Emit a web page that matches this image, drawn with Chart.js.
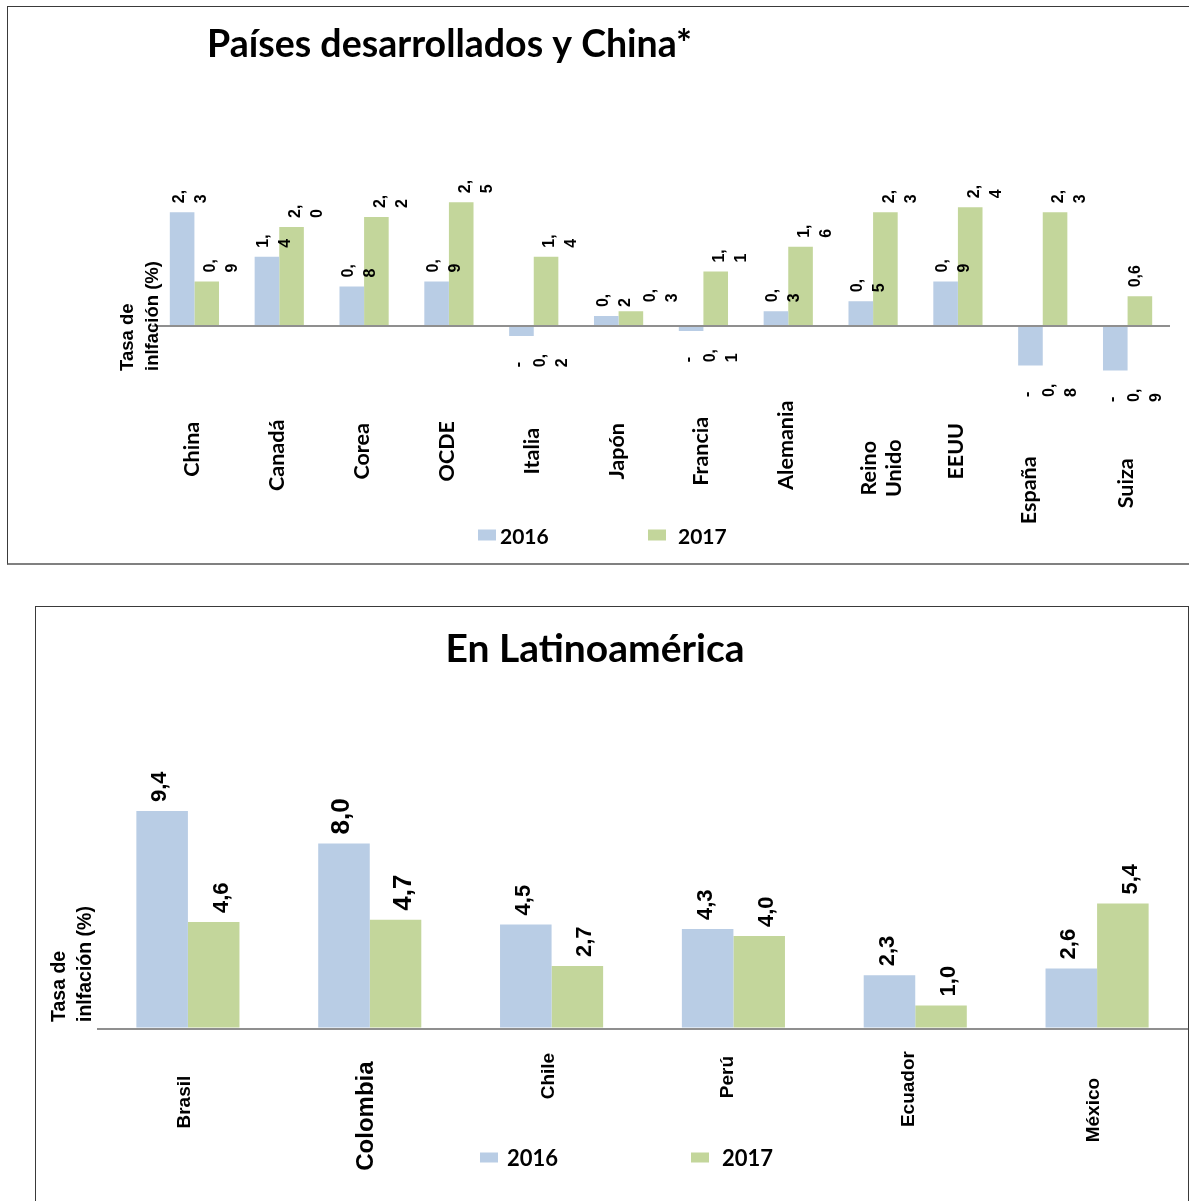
<!DOCTYPE html>
<html lang="es">
<head>
<meta charset="utf-8">
<title>Tasa de inflación 2016-2017</title>
<script src="https://cdn.jsdelivr.net/npm/chart.js@4.4.1/dist/chart.umd.min.js"></script>
<style>
  html, body { margin: 0; padding: 0; background: #fff; }
  body { width: 1189px; height: 1201px; position: relative; overflow: hidden; }
  .marco { position: absolute; box-sizing: border-box; }
  #marco1 { left: 7px; top: 6px; width: 1200px; height: 559px;
            border-left: 1.5px solid #3a3a3a; border-top: 1.5px solid #3a3a3a; border-bottom: 2px solid #808080; }
  #marco2 { left: 35px; top: 606px; width: 1154px; height: 700px; border: 1.5px solid #3a3a3a; }
  .lienzo { position: absolute; left: 0; }
  #lienzo1 { top: 0; }
  #lienzo2 { top: 600px; }
</style>
</head>
<body>
<div class="marco" id="marco1"></div>
<div class="marco" id="marco2"></div>
<canvas class="lienzo" id="lienzo1" width="1189" height="566"></canvas>
<canvas class="lienzo" id="lienzo2" width="1189" height="601"></canvas>
<script>
// ---- Datos: tasa de inflación (%) ----
const paisesDesarrollados = ['China', 'Canadá', 'Corea', 'OCDE', 'Italia', 'Japón', 'Francia',
                             'Alemania', ['Reino', 'Unido'], 'EEUU', 'España', 'Suiza'];
const desarrollados2016 = [2.3, 1.4, 0.8, 0.9, -0.2, 0.2, -0.1, 0.3, 0.5, 0.9, -0.8, -0.9];
const desarrollados2017 = [0.9, 2.0, 2.2, 2.5, 1.4, 0.3, 1.1, 1.6, 2.3, 2.4, 2.3, 0.6];

const paisesLatam = ['Brasil', 'Colombia', 'Chile', 'Perú', 'Ecuador', 'México'];
const latam2016 = [9.4, 8.0, 4.5, 4.3, 2.3, 2.6];
const latam2017 = [4.6, 4.7, 2.7, 4.0, 1.0, 5.4];

const anios = ['2016', '2017'];
const tituloEje = ['Tasa de', 'inlfación (%)'];

const AZUL = '#b9cde5';
const VERDE = '#c3d69b';

// ---- Utilidades de texto ----
const nombre = (lab) => Array.isArray(lab) ? lab.join(' ') : lab;
const etiquetaValor = (v) => v.toFixed(1).replace('.', ',');
// Caja de etiqueta estrecha: corta tras el signo y tras la coma
function partirEtiqueta(txt) {
  const lineas = [];
  let resto = txt;
  if (resto.startsWith('-')) { lineas.push('-'); resto = resto.slice(1); }
  const k = resto.indexOf(',');
  lineas.push(resto.slice(0, k + 1), resto.slice(k + 1));
  return lineas;
}
function textoGirado(ctx, lineas, x, y, sep, align) {
  ctx.save();
  ctx.translate(x, y);
  ctx.rotate(-Math.PI / 2);
  ctx.textAlign = align;
  ctx.textBaseline = 'middle';
  lineas.forEach((l, j) => ctx.fillText(l, 0, j * sep));
  ctx.restore();
}

// ---- Plugins de dibujo ----
const tituloGrafico = {
  id: 'tituloGrafico',
  afterDraw(chart, args, o) {
    const ctx = chart.ctx;
    ctx.save();
    ctx.fillStyle = '#000';
    ctx.font = `bold ${o.size}px ${o.family}`;
    ctx.textAlign = 'center';
    ctx.textBaseline = 'alphabetic';
    ctx.fillText(o.text, o.x, o.y);
    ctx.restore();
  }
};

const tituloEjeY = {
  id: 'tituloEjeY',
  afterDraw(chart, args, o) {
    const ctx = chart.ctx;
    ctx.save();
    ctx.fillStyle = '#000';
    ctx.font = `bold ${o.size}px ${o.family}`;
    o.text.forEach((l, j) => textoGirado(ctx, [l], o.x[j], o.y, 0, 'left'));
    ctx.restore();
  }
};

const etiquetasValor = {
  id: 'etiquetasValor',
  afterDatasetsDraw(chart, args, o) {
    const ctx = chart.ctx;
    ctx.save();
    ctx.fillStyle = '#000';
    chart.data.datasets.forEach((ds, di) => {
      chart.getDatasetMeta(di).data.forEach((bar, i) => {
        const v = ds.data[i];
        const cat = nombre(chart.data.labels[i]);
        const grande = (o.enfasis || []).includes(cat);
        ctx.font = `bold ${grande ? o.sizeGrande : o.size}px ${o.family}`;
        const txt = etiquetaValor(v);
        const unaLinea = !o.partir || (o.unaLinea || []).includes(di + ':' + cat);
        const lineas = unaLinea ? [txt] : partirEtiqueta(txt);
        const largo = Math.max(...lineas.map(l => ctx.measureText(l).width));
        const aj = (o.ajuste || {})[di + ':' + cat] || {};
        const x = bar.x + o.dx[di] + (aj.dx || 0);
        const y = v >= 0 ? bar.y - o.sep : bar.y + o.sepAbajo + largo;
        textoGirado(ctx, lineas, x, y, o.interlinea, 'left');
      });
    });
    ctx.restore();
  }
};

const etiquetasCategoria = {
  id: 'etiquetasCategoria',
  afterDraw(chart, args, o) {
    const ctx = chart.ctx;
    const xs = chart.scales.x;
    ctx.save();
    ctx.fillStyle = '#000';
    chart.data.labels.forEach((lab, i) => {
      const lineas = Array.isArray(lab) ? lab : [lab];
      const cat = nombre(lab);
      const grande = (o.enfasis || []).includes(cat);
      ctx.font = `bold ${grande ? o.sizeGrande : o.size}px ${o.family}`;
      const aj = (o.ajuste || {})[cat] || {};
      const x = xs.getPixelForValue(i) + o.dx + (aj.dx || 0) - (lineas.length - 1) * o.interlinea / 2;
      const y = chart.chartArea.bottom + o.dy + (aj.dy || 0);
      textoGirado(ctx, lineas, x, y, o.interlinea, 'center');
    });
    ctx.restore();
  }
};

const leyenda = {
  id: 'leyenda',
  afterDraw(chart, args, o) {
    const ctx = chart.ctx;
    ctx.save();
    ctx.font = `bold ${o.size}px ${o.family}`;
    ctx.textBaseline = 'middle';
    ctx.textAlign = 'left';
    chart.data.datasets.forEach((ds, di) => {
      ctx.fillStyle = ds.backgroundColor;
      ctx.fillRect(o.x[di], o.y - o.caja[1] / 2, o.caja[0], o.caja[1]);
      ctx.fillStyle = '#000';
      ctx.fillText(ds.label, o.x[di] + o.texto[di], o.yTexto);
    });
    ctx.restore();
  }
};

function opcionesBase(p) {
  return {
    responsive: false,
    animation: false,
    events: [],
    layout: { padding: p.padding },
    plugins: {
      legend: { display: false },
      title: { display: false },
      tooltip: { enabled: false },
      tituloGrafico: p.titulo,
      tituloEjeY: p.ejeY,
      etiquetasValor: p.valores,
      etiquetasCategoria: p.categorias,
      leyenda: p.leyenda
    },
    scales: {
      x: { display: false, grid: { display: false } },
      y: {
        display: true,
        min: p.min, max: p.max,
        ticks: { display: false, stepSize: 0.5 },
        border: { display: false },
        grid: {
          drawTicks: false,
          lineWidth: 2,
          color: (c) => (c.tick && c.tick.value === 0) ? '#8f8f8f' : 'rgba(0,0,0,0)'
        },
        afterFit(s) { s.width = 0; }
      }
    }
  };
}

const plugins = [tituloGrafico, tituloEjeY, etiquetasValor, etiquetasCategoria, leyenda];
const SANS = '"Liberation Sans", Arial, sans-serif';
const TITULAR = 'Lato, "Open Sans", sans-serif';

// ---- Gráfico 1: países desarrollados y China ----
new Chart(document.getElementById('lienzo1'), {
  type: 'bar',
  data: {
    labels: paisesDesarrollados,
    datasets: [
      { label: anios[0], data: desarrollados2016, backgroundColor: AZUL, borderWidth: 0,
        categoryPercentage: 0.58, barPercentage: 1.0 },
      { label: anios[1], data: desarrollados2017, backgroundColor: VERDE, borderWidth: 0,
        categoryPercentage: 0.58, barPercentage: 1.0 }
    ]
  },
  options: opcionesBase({
    padding: { left: 152, right: 19, top: 103.25, bottom: 165.75 },
    min: -1.5, max: 4.5,
    titulo: { text: 'Países desarrollados y China*', family: TITULAR, size: 37.5, x: 449.5, y: 57 },
    ejeY: { text: tituloEje, family: SANS, size: 18.5, x: [127.5, 152.5], y: 371 },
    valores: {
      family: SANS, size: 16, partir: true, sep: 9, sepAbajo: 18, interlinea: 22,
      dx: [-3, 4], unaLinea: ['1:Suiza'], ajuste: { '1:Japón': { dx: 16 }, '1:Suiza': { dx: -8 } }
    },
    categorias: {
      family: TITULAR, size: 21.5, dx: -2, dy: 51, interlinea: 25,
      ajuste: { 'China': { dy: -2 }, 'Canadá': { dy: 4 }, 'Alemania': { dy: -6 },
                'Reino Unido': { dy: 17, dx: 10 }, 'España': { dy: 39, dx: -12 }, 'Suiza': { dy: 32 } }
    },
    leyenda: { family: TITULAR, size: 21, x: [478, 648], texto: [22, 30], y: 535, yTexto: 537, caja: [18, 11] }
  }),
  plugins
});

// ---- Gráfico 2: Latinoamérica ----
new Chart(document.getElementById('lienzo2'), {
  type: 'bar',
  data: {
    labels: paisesLatam,
    datasets: [
      { label: anios[0], data: latam2016, backgroundColor: AZUL, borderWidth: 0,
        categoryPercentage: 0.567, barPercentage: 1.0 },
      { label: anios[1], data: latam2017, backgroundColor: VERDE, borderWidth: 0,
        categoryPercentage: 0.567, barPercentage: 1.0 }
    ]
  },
  options: opcionesBase({
    padding: { left: 97, right: 1, top: 150.8, bottom: 172.4 },
    min: 0, max: 12,
    titulo: { text: 'En Latinoamérica', family: TITULAR, size: 39, x: 595, y: 62 },
    ejeY: { text: tituloEje, family: SANS, size: 19.5, x: [60, 86], y: 422 },
    valores: {
      family: SANS, size: 22, sizeGrande: 26, enfasis: ['Colombia'], partir: false,
      sep: 9, sepAbajo: 9, interlinea: 0, dx: [-2, 8]
    },
    categorias: {
      family: SANS, size: 19, sizeGrande: 24, enfasis: ['Colombia'], dx: -3, dy: 61.5, interlinea: 25,
      ajuste: { 'Brasil': { dy: 12 }, 'Colombia': { dy: 26 }, 'Chile': { dy: -14 }, 'Perú': { dy: -13, dx: -3 },
                'Ecuador': { dy: -1, dx: -3 }, 'México': { dy: 20 } }
    },
    leyenda: { family: TITULAR, size: 22, x: [480, 691], texto: [27, 31], y: 557.5, yTexto: 559, caja: [18, 10] }
  }),
  plugins
});
</script>
</body>
</html>
